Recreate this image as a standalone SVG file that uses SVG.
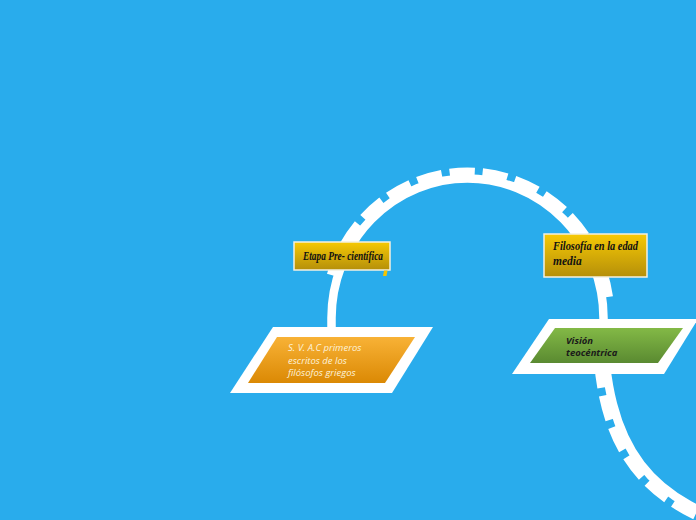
<svg xmlns="http://www.w3.org/2000/svg" width="696" height="520" viewBox="0 0 696 520">
  <style>
    .road { fill: none; stroke: #ffffff; stroke-width: 8.5; }
    .teeth { fill: none; stroke: #ffffff; stroke-width: 9; stroke-dasharray: 25 8; }
    .frame { fill: #ffffff; }
    .script { font-family: "Liberation Serif", "DejaVu Serif", serif; font-style: italic; font-weight: bold; font-size: 11.5px; fill: #111111; }
    .light { font-family: "Open Sans", "Liberation Sans", sans-serif; font-style: italic; font-size: 9.5px; fill: #fdf2da; }
    .dark { font-family: "Open Sans", "Liberation Sans", sans-serif; font-style: italic; font-weight: bold; font-size: 9.5px; fill: #1a1a1a; }
  </style>
  <defs>
    <linearGradient id="gYellow" x1="0" y1="0" x2="0" y2="1">
      <stop offset="0" stop-color="#f6c905"/>
      <stop offset="1" stop-color="#b58f0a"/>
    </linearGradient>
    <linearGradient id="gOrange" x1="0" y1="0" x2="0" y2="1">
      <stop offset="0" stop-color="#f8b236"/>
      <stop offset="1" stop-color="#db8904"/>
    </linearGradient>
    <linearGradient id="gGreen" x1="0" y1="0" x2="0" y2="1">
      <stop offset="0" stop-color="#83b946"/>
      <stop offset="1" stop-color="#5a8a31"/>
    </linearGradient>
  </defs>
  <rect width="696" height="520" fill="#29acec"/>

  <g id="connectors">
    <path class="road" d="M331.5,332 L331.5,318 A136,139.5 0 0 1 603.5,318 L603.5,320 C604.5,450 650,505 760,530"/>
    <path class="teeth" d="M331.3,275 A142.5,146 0 0 1 608.9,300"/>
    <path class="teeth" d="M597,330 C598,452 646,510.5 758.5,536.5"/>
  </g>

  <g id="node-etapa">
    <rect x="294" y="242" width="96" height="28" fill="url(#gYellow)" stroke="#f4f0e0" stroke-width="1.5"/>
    <polygon points="384,270.5 387.5,270.5 386.5,276 383,276" fill="#f5c400"/>
    <text class="script" x="343" y="259.5" text-anchor="middle" textLength="80" lengthAdjust="spacingAndGlyphs">Etapa Pre- científica</text>
  </g>

  <g id="node-filosofia">
    <rect x="544" y="234" width="103" height="43" fill="url(#gYellow)" stroke="#f4f0e0" stroke-width="1.5"/>
    <text class="script" x="553" y="250" textLength="85" lengthAdjust="spacingAndGlyphs">Filosofía en la edad</text>
    <text class="script" x="553" y="264.5">media</text>
  </g>

  <g id="node-svac">
    <polygon class="frame" points="273,327 433,327 392,393 230,393"/>
    <polygon points="277,337 415,337 385,383 248,383" fill="url(#gOrange)"/>
    <text class="light" x="288" y="351">S. V. A.C primeros</text>
    <text class="light" x="288" y="363.5">escritos de los</text>
    <text class="light" x="288" y="376">filósofos griegos</text>
  </g>

  <g id="node-vision">
    <polygon class="frame" points="549,319 698,319 664,374 512,374"/>
    <polygon points="555,328 683,328 658,363 530,363" fill="url(#gGreen)"/>
    <text class="dark" x="566" y="344">Visión</text>
    <text class="dark" x="566" y="356">teocéntrica</text>
  </g>
</svg>
